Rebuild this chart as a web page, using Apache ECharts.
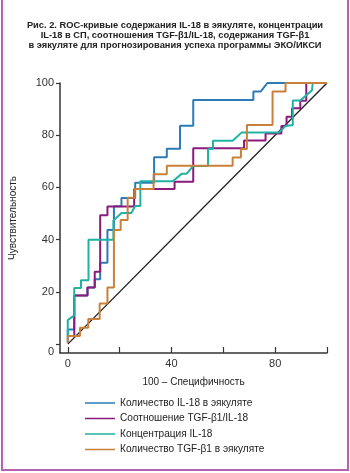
<!DOCTYPE html>
<html>
<head>
<meta charset="utf-8">
<script src="https://cdn.jsdelivr.net/npm/echarts@6/dist/echarts.min.js"></script>
<style>
html,body{margin:0;padding:0;background:#fff;}
#wrap{position:relative;width:350px;height:473px;overflow:hidden;}
#chart{position:absolute;left:0;top:0;width:350px;height:473px;}
#frame{position:absolute;left:1px;top:-10px;width:348px;height:481px;box-sizing:border-box;border:2px solid #b462ad;border-top:none;pointer-events:none;}
</style>
</head>
<body>
<div id="wrap"><div id="chart"></div><div id="frame"></div></div>
<script>
var titleLines = [
  'Рис. 2. ROC-кривые содержания IL-18 в эякуляте, концентрации',
  'IL-18 в СП, соотношения TGF-β1/IL-18, содержания TGF-β1',
  'в эякуляте для прогнозирования успеха программы ЭКО/ИКСИ'
];
var seriesNames = [
  'Количество IL-18 в эякуляте',
  'Соотношение TGF-β1/IL-18',
  'Концентрация IL-18',
  'Количество TGF-β1 в эякуляте'
];
var xAxisName = '100 – Специфичность';
var yAxisName = 'Чувствительность';
var xTicks = [0, 20, 40, 60, 80, 100];
var xLabels = [0, 40, 80];
var yTicks = [0, 20, 40, 60, 80, 100];
var yLabels = [-3, 20, 40, 60, 80, 100];

var blueIL18 = [[0,0.5],[0,5.6],[2.5,5.6],[2.5,18.6],[7.6,18.6],[7.6,21.7],[10.4,21.7],[10.4,24.8],[12.5,24.8],[12.5,31.2],[15.3,31.2],[15.3,43.7],[17.8,43.7],[17.8,52.8],[20.7,52.8],[20.7,56],[26,56],[26,61.8],[33.3,61.8],[33.3,71.6],[38.2,71.6],[38.2,74.8],[43.3,74.8],[43.3,83.6],[48.4,83.6],[48.4,93.5],[71.6,93.5],[71.6,96.7],[74.4,96.7],[77,100],[100,100]];
var purpleRatio = [[2.5,2.5],[2.5,18.6],[7.6,18.6],[7.6,21.7],[10.4,21.7],[10.4,27.7],[12.5,27.7],[12.5,49.4],[15.3,49.4],[15.3,52.7],[25.6,52.7],[25.6,59.4],[41.2,59.4],[41.2,62.2],[48.4,62.2],[48.4,75],[68,75],[68,78],[76.3,78],[76.3,80.7],[82.4,80.7],[82.4,83.5],[84.4,83.5],[84.4,87.1],[86.5,87.1],[86.5,90.3],[89.7,90.3],[89.7,93.2],[92,93.2],[92,100],[100,100]];
var tealConc = [[0,3],[0,9.2],[2.5,11],[2.5,21.5],[5.1,21.5],[5.1,24.5],[8,24.5],[8,40],[17.6,40],[17.6,47.3],[20.7,50.2],[24.5,50.2],[26,52.9],[28,52.9],[28,62.4],[40.5,62.4],[43.9,65.2],[45.8,65.2],[48.3,68.2],[54.1,68.2],[54.1,74.7],[56,74.7],[56,77.9],[63.6,77.9],[67,81],[81.4,81],[84,83.5],[86.8,83.9],[86.8,93.3],[89.7,93.3],[94.2,97.2],[94.5,100],[100,100]];
var orangeTGF = [[0,0.5],[0,3.1],[4.7,3.1],[4.7,6.3],[7.9,6.3],[7.9,9.6],[12.3,9.6],[12.3,15.6],[15.3,15.6],[15.3,21.7],[17.8,21.7],[17.8,43.7],[20.4,43.7],[20.4,47.5],[23.1,47.5],[23.1,56.1],[25.8,56.1],[25.8,59.4],[33.1,59.4],[33.1,65.1],[38.2,65.1],[38.2,68.3],[63.6,68.3],[63.6,71.5],[66.8,71.5],[66.8,74.7],[69.1,74.7],[69.1,83.9],[79,83.9],[79,96.7],[84,96.7],[84,100],[100,100]];
var diagonal = [[0,0],[100,100]];

var colors = ['#2c7bb6', '#8b1a7d', '#1fb3a3', '#c9803a'];
var curves = [blueIL18, purpleRatio, tealConc, orangeTGF];
var FONT = '"Liberation Sans", Arial, sans-serif';

var series = curves.map(function (d, i) {
  return {
    name: seriesNames[i], type: 'line', data: d, symbol: 'none', z: 3 + i,
    lineStyle: { color: colors[i], width: 2 }, itemStyle: { color: colors[i] },
    animation: false
  };
});
series.push({
  name: 'diag', type: 'line', data: diagonal, symbol: 'none', z: 2,
  lineStyle: { color: '#222', width: 1.4 }, animation: false, silent: true
});

var chart = echarts.init(document.getElementById('chart'), null, { renderer: 'canvas' });
chart.setOption({
  backgroundColor: '#fff',
  animation: false,
  title: {
    text: titleLines.join('\n'), left: 175, top: 20, textAlign: 'center', padding: 0,
    textStyle: { fontFamily: FONT, fontSize: 9.3, fontWeight: 'bold', lineHeight: 10.2, color: '#222', align: 'center' }
  },
  legend: {
    data: seriesNames.map(function (n) { return { name: n, icon: 'rect' }; }),
    orient: 'vertical', left: 85, top: 397, height: 120, padding: 0,
    itemWidth: 30, itemHeight: 1.5, itemGap: 3.5,
    textStyle: { fontFamily: FONT, fontSize: 10.1, lineHeight: 12, color: '#222' }
  },
  grid: { left: 58, right: 23, top: 83, bottom: 120, containLabel: false },
  xAxis: {
    type: 'value', min: -3, max: 100,
    name: xAxisName, nameLocation: 'middle', nameGap: 24,
    nameTextStyle: { fontFamily: FONT, fontSize: 10, color: '#222' },
    axisLine: { show: true, onZero: false, lineStyle: { color: '#333', width: 1.5 } },
    axisTick: { show: true, inside: true, length: 6, customValues: xTicks, lineStyle: { color: '#333', width: 1.2 } },
    axisLabel: { customValues: xLabels, margin: 5, fontFamily: FONT, fontSize: 11, color: '#333' },
    splitLine: { show: false }
  },
  yAxis: {
    type: 'value', min: -3.4, max: 100,
    name: yAxisName, nameLocation: 'middle', nameGap: 42, nameRotate: 90,
    nameTextStyle: { fontFamily: FONT, fontSize: 10, color: '#222' },
    axisLine: { show: true, onZero: false, lineStyle: { color: '#333', width: 1.5 } },
    axisTick: { show: true, inside: false, length: 4, customValues: yTicks, lineStyle: { color: '#333', width: 1.2 } },
    axisLabel: { customValues: yLabels, margin: 6, fontFamily: FONT, fontSize: 11, color: '#333',
      formatter: function (v) { return v < 0 ? '0' : String(v); } },
    splitLine: { show: false }
  },
  series: series
});
</script>
</body>
</html>
